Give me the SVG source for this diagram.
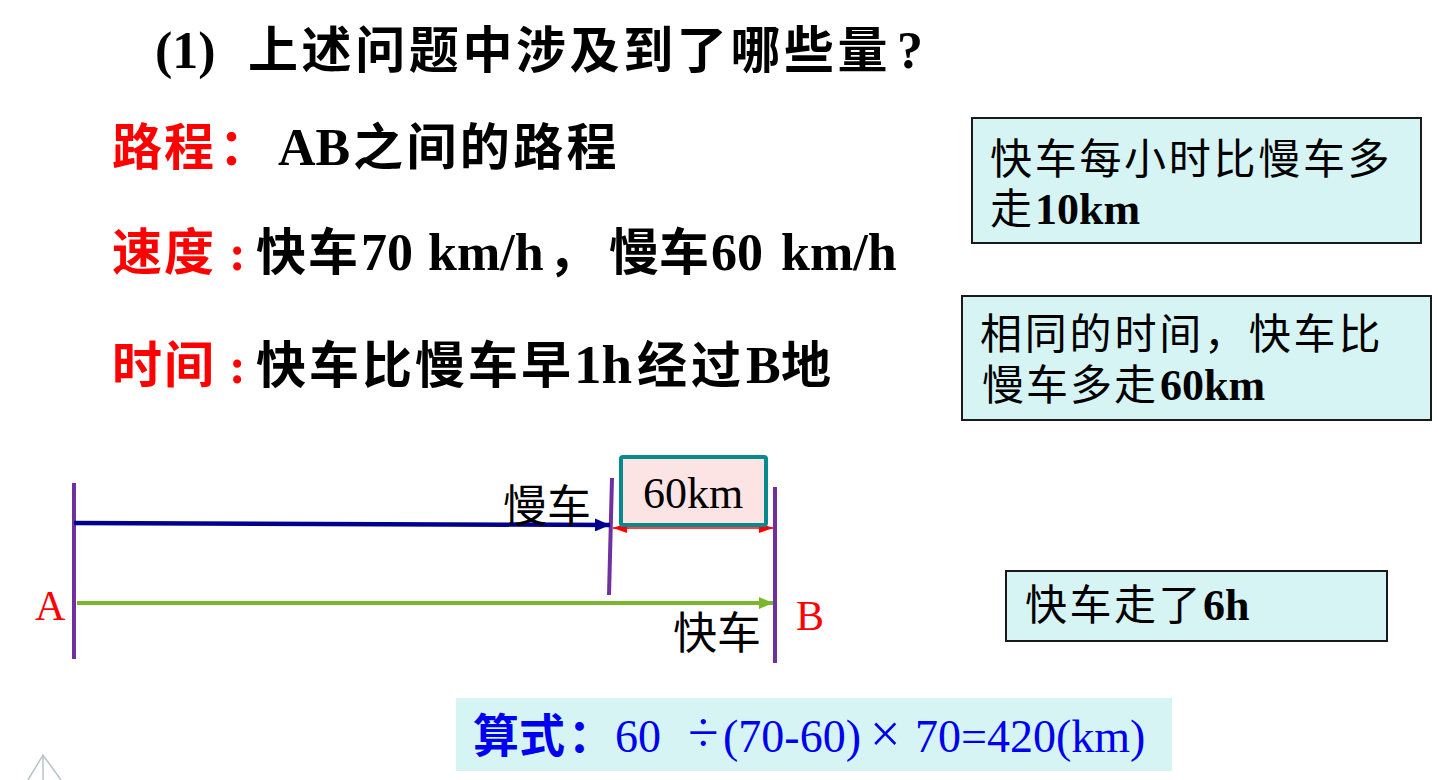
<svg xmlns="http://www.w3.org/2000/svg" width="1438" height="780" viewBox="0 0 1438 780">
<defs>
<style>
.cjk{font-family:"Noto Sans CJK SC","Noto Sans",sans-serif}
.ser{font-family:"Liberation Serif","Noto Sans CJK SC",serif}
.b{font-weight:700}
.red{fill:#FF0000}
.blk{fill:#000000}
.blue{fill:#0000F0}
.note{fill:#D6F4F4;stroke:#1a1a1a;stroke-width:2}
.post{stroke:#7030A0;stroke-width:4;fill:none}
</style>
<marker id="hBlue" markerUnits="userSpaceOnUse" viewBox="0 0 15 13" refX="15" refY="6.5" markerWidth="15" markerHeight="13" orient="auto"><path d="M0,0 L15,6.5 L0,13 z" fill="#00008E"/></marker>
<marker id="hGreen" markerUnits="userSpaceOnUse" viewBox="0 0 14 12" refX="14" refY="6" markerWidth="14" markerHeight="12" orient="auto"><path d="M0,0 L14,6 L0,12 z" fill="#7AB72E"/></marker>
<marker id="hRed" markerUnits="userSpaceOnUse" viewBox="0 0 14 10" refX="14" refY="5" markerWidth="14" markerHeight="10" orient="auto-start-reverse"><path d="M0,0 L14,5 L0,10 z" fill="#FF0000"/></marker>
</defs>
<rect width="1438" height="780" fill="#FFFFFF"/>

<g id="title">
<text y="68" class="blk b"><tspan x="155" class="ser" font-size="52">(1)</tspan><tspan x="248" class="cjk" font-size="50" letter-spacing="3.6">上述问题中涉及到了哪些量</tspan><tspan x="897" class="ser" font-size="52">?</tspan></text>
</g>

<g id="line-distance">
<text y="165" font-size="50" class="red b cjk"><tspan x="112" letter-spacing="2">路程</tspan><tspan x="219">：</tspan></text>
<text y="165" class="blk b"><tspan x="278" class="ser" font-size="52">AB</tspan><tspan x="353" class="cjk" font-size="50" letter-spacing="3.4">之间的路程</tspan></text>
</g>

<g id="line-speed">
<text y="270" font-size="50" class="red b"><tspan x="112" class="cjk" letter-spacing="2">速度</tspan><tspan x="229" class="ser">:</tspan></text>
<text y="270" class="blk b"><tspan x="256" class="cjk" font-size="50" letter-spacing="2">快车</tspan><tspan x="361" class="ser" font-size="52">70</tspan><tspan x="428" class="ser" font-size="52">km/h</tspan><tspan x="548" class="cjk" font-size="50">，</tspan><tspan x="609" class="cjk" font-size="50">慢车</tspan><tspan x="711" class="ser" font-size="52">60</tspan><tspan x="781" class="ser" font-size="52">km/h</tspan></text>
</g>

<g id="line-time">
<text y="383" font-size="50" class="red b"><tspan x="112" class="cjk" letter-spacing="2">时间</tspan><tspan x="229" class="ser">:</tspan></text>
<text y="383" class="blk b"><tspan x="256" class="cjk" font-size="50" letter-spacing="3">快车比慢车早</tspan><tspan x="574" class="ser" font-size="55">1h</tspan><tspan x="637" class="cjk" font-size="50" letter-spacing="4">经过</tspan><tspan x="746" class="ser" font-size="52">B</tspan><tspan x="781" class="cjk" font-size="50">地</tspan></text>
</g>

<g id="note-per-hour">
<rect x="972" y="118" width="449" height="125" class="note"/>
<text class="blk"><tspan x="990" y="174" font-size="42" class="cjk" letter-spacing="2.7">快车每小时比慢车多</tspan><tspan x="990" y="224" class="cjk" font-size="42">走</tspan><tspan x="1035" y="224" class="ser b" font-size="44">10km</tspan></text>
</g>

<g id="note-same-time">
<rect x="962" y="296" width="469" height="124" class="note"/>
<text class="blk"><tspan x="980" y="349" font-size="42" class="cjk" letter-spacing="2.8">相同的时间，快车比</tspan><tspan x="982" y="400" class="cjk" font-size="42" letter-spacing="2">慢车多走</tspan><tspan x="1160" y="400" class="ser b" font-size="44">60km</tspan></text>
</g>

<g id="note-hours">
<rect x="1006" y="571" width="381" height="70" class="note"/>
<text y="620" class="blk"><tspan x="1025" class="cjk" font-size="42" letter-spacing="2.5">快车走了</tspan><tspan x="1203" class="ser b" font-size="44">6h</tspan></text>
</g>

<g id="formula">
<rect x="456" y="698" width="716" height="73" fill="#D6F4F4"/>
<text y="752" class="blue" font-size="46"><tspan x="473" class="cjk b">算式</tspan><tspan x="568" class="cjk b">：</tspan><tspan x="615" class="ser">60</tspan><tspan x="688" class="ser" font-size="56">÷</tspan><tspan x="723" class="ser">(70-60)</tspan><tspan x="870" class="ser" font-size="54">×</tspan><tspan x="915" class="ser">70=420(km)</tspan></text>
</g>

<g id="posts">
<line x1="74" y1="483" x2="74" y2="659" class="post"/>
<line x1="612" y1="478" x2="609" y2="595" class="post"/>
<line x1="775" y1="487" x2="775" y2="663" class="post"/>
</g>

<g id="connectors">
<line x1="74" y1="523" x2="610" y2="525" stroke="#00008E" stroke-width="4.5" marker-end="url(#hBlue)"/>
<line x1="77" y1="603" x2="773" y2="603" stroke="#7AB72E" stroke-width="4" marker-end="url(#hGreen)"/>
<line x1="613" y1="528" x2="773" y2="528" stroke="#FF0000" stroke-width="1.5" marker-start="url(#hRed)" marker-end="url(#hRed)"/>
</g>

<g id="gap-box">
<rect x="621" y="457" width="145" height="68" rx="2" fill="#FCE4E4" stroke="#078A8E" stroke-width="4"/>
<text x="693" y="508" font-size="44" class="ser blk" text-anchor="middle">60km</text>
</g>

<g id="labels">
<text x="503" y="522" font-size="44" class="cjk blk">慢车</text>
<text x="673" y="649" font-size="44" class="cjk blk">快车</text>
<text x="35" y="620" font-size="42" class="ser red">A</text>
<text x="796" y="630" font-size="42" class="ser red">B</text>
</g>

<g id="corner-mark" fill="none" stroke="#B4C3CC" stroke-width="1.5">
<path d="M28,780 L43,755 L61,780"/>
<line x1="43" y1="755" x2="43" y2="780"/>
</g>
</svg>
